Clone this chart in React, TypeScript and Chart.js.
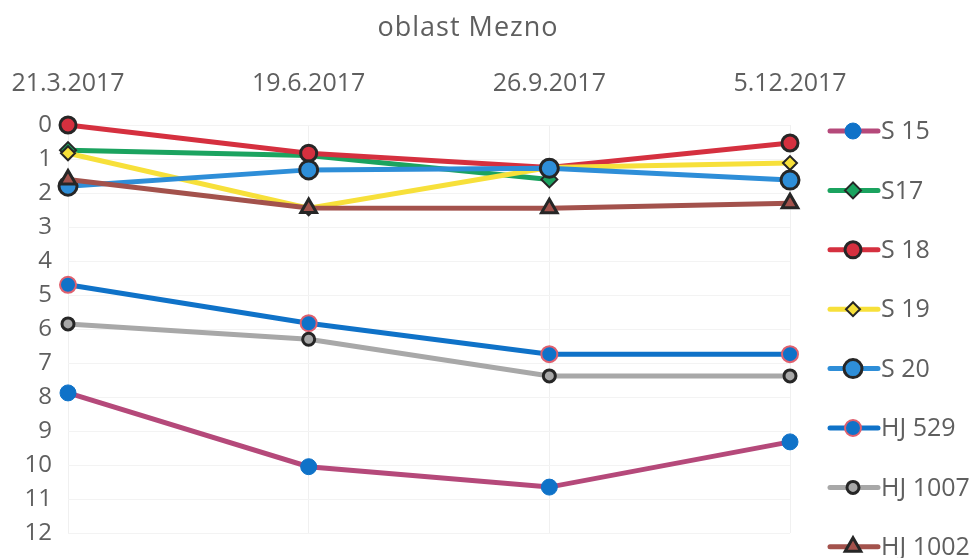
import React, { useEffect, useRef } from "react";
import { Chart, registerables } from "chart.js";
import { drawPoint } from "chart.js/helpers";

Chart.register(...registerables);

const title = "oblast Mezno";
const categories = ["21.3.2017", "19.6.2017", "26.9.2017", "5.12.2017"];
const yTicks = [0, 1, 2, 3, 4, 5, 6, 7, 8, 9, 10, 11, 12];

const seriesNames = ["S 15", "S17", "S 18", "S 19", "S 20", "HJ 529", "HJ 1007", "HJ 1002"];
const s15 = [7.88, 10.05, 10.65, 9.32];
const s17 = [0.74, 0.9, 1.6, null];
const s18 = [0.0, 0.83, 1.25, 0.53];
const s19 = [0.83, 2.45, 1.25, 1.12];
const s20 = [1.8, 1.32, 1.27, 1.62];
const hj529 = [4.7, 5.83, 6.74, 6.74];
const hj1007 = [5.85, 6.3, 7.38, 7.38];
const hj1002 = [1.6, 2.44, 2.45, 2.3];

const FONT = "'Open Sans', Lato, sans-serif";
const TEXT = "#5f5f5f";

type Style = {
  line: string;
  fill: string;
  border: string;
  bw: number;
  shape: string;
  r: number;
};

const styles: Style[] = [
  { line: "#B5497A", fill: "#0F72C8", border: "#0F72C8", bw: 1, shape: "circle", r: 8 },
  { line: "#1BA35F", fill: "#1BA35F", border: "#262626", bw: 2, shape: "rectRot", r: 8 },
  { line: "#D5303F", fill: "#D5303F", border: "#262626", bw: 3, shape: "circle", r: 8 },
  { line: "#F7E03A", fill: "#F7E03A", border: "#262626", bw: 2, shape: "rectRot", r: 7 },
  { line: "#2E8ED8", fill: "#2E8ED8", border: "#262626", bw: 3, shape: "circle", r: 9 },
  { line: "#0F72C8", fill: "#0F72C8", border: "#E0606E", bw: 2, shape: "circle", r: 8 },
  { line: "#A8A8A8", fill: "#A8A8A8", border: "#262626", bw: 3, shape: "circle", r: 6 },
  { line: "#A3524C", fill: "#A3524C", border: "#262626", bw: 3, shape: "triangle", r: 9 },
];

const allData = [s15, s17, s18, s19, s20, hj529, hj1007, hj1002];

const overlayPlugin = {
  id: "overlay",
  afterDraw(chart: any) {
    const ctx = chart.ctx;
    ctx.save();
    ctx.fillStyle = TEXT;
    ctx.font = `27px ${FONT}`;
    ctx.textAlign = "center";
    ctx.textBaseline = "middle";
    try { (ctx as any).letterSpacing = "1px"; } catch (e) {}
    ctx.fillText(title, 468, 28);
    try { (ctx as any).letterSpacing = "0px"; } catch (e) {}

    // legend
    ctx.textAlign = "left";
    ctx.font = `25px ${FONT}`;
    chart.data.datasets.forEach((ds: any, i: number) => {
      const y = 131 + i * 59.4;
      const st = styles[i];
      ctx.strokeStyle = st.line;
      ctx.lineWidth = 5;
      ctx.lineCap = "round";
      ctx.beginPath();
      ctx.moveTo(830, y);
      ctx.lineTo(878, y);
      ctx.stroke();
      ctx.fillStyle = st.fill;
      ctx.strokeStyle = st.border;
      ctx.lineWidth = st.bw;
      drawPoint(ctx, { pointStyle: st.shape, radius: st.r, rotation: 0, borderWidth: st.bw }, 853, y);
      ctx.fillStyle = TEXT;
      ctx.fillText(ds.label, 881, y + 1);
    });
    ctx.restore();
  },
};

export default function App() {
  const ref = useRef<HTMLCanvasElement>(null);

  useEffect(() => {
    document.body.style.margin = "0";
    const datasets = allData.map((d, i) => {
      const st = styles[i];
      return {
        label: seriesNames[i],
        data: d,
        borderColor: st.line,
        backgroundColor: st.fill,
        borderWidth: 5,
        pointStyle: st.shape,
        pointRadius: st.r,
        pointBackgroundColor: st.fill,
        pointBorderColor: st.border,
        pointBorderWidth: st.bw,
        tension: 0,
        spanGaps: false,
        clip: false as any,
        order: allData.length - i,
      };
    });
    const chart = new Chart(ref.current!, {
      type: "line",
      data: { labels: categories, datasets },
      options: {
        animation: false,
        responsive: false,
        maintainAspectRatio: false,
        layout: { padding: { left: 0, top: 0, right: 188, bottom: 25 } },
        plugins: {
          legend: { display: false },
          title: { display: false },
          tooltip: { enabled: false },
        },
        scales: {
          x: {
            position: "top",
            offset: false,
            grid: { color: "#f0f0f0", drawTicks: false },
            border: { display: false },
            ticks: {
              color: TEXT,
              font: { family: FONT, size: 25 },
              padding: 26,
              maxRotation: 0,
              autoSkip: false,
            },
            afterFit(scale: any) {
              scale.height = 125;
              scale.paddingLeft = 0;
              scale.paddingRight = 0;
            },
          },
          y: {
            reverse: true,
            min: 0,
            max: 12,
            afterBuildTicks(scale: any) {
              scale.ticks = yTicks.map((v) => ({ value: v }));
            },
            grid: { color: "#f3f3f3", drawTicks: false },
            border: { display: false },
            ticks: {
              color: TEXT,
              font: { family: FONT, size: 24 },
              padding: 16,
            },
            afterFit(scale: any) {
              scale.width = 68;
              scale.paddingTop = 0;
              scale.paddingBottom = 0;
            },
          },
        },
      },
      plugins: [overlayPlugin],
    });
    return () => chart.destroy();
  }, []);

  return (
    <div style={{ width: 978, height: 558, background: "#fff" }}>
      <canvas ref={ref} width={978} height={558} style={{ display: "block" }} />
    </div>
  );
}
